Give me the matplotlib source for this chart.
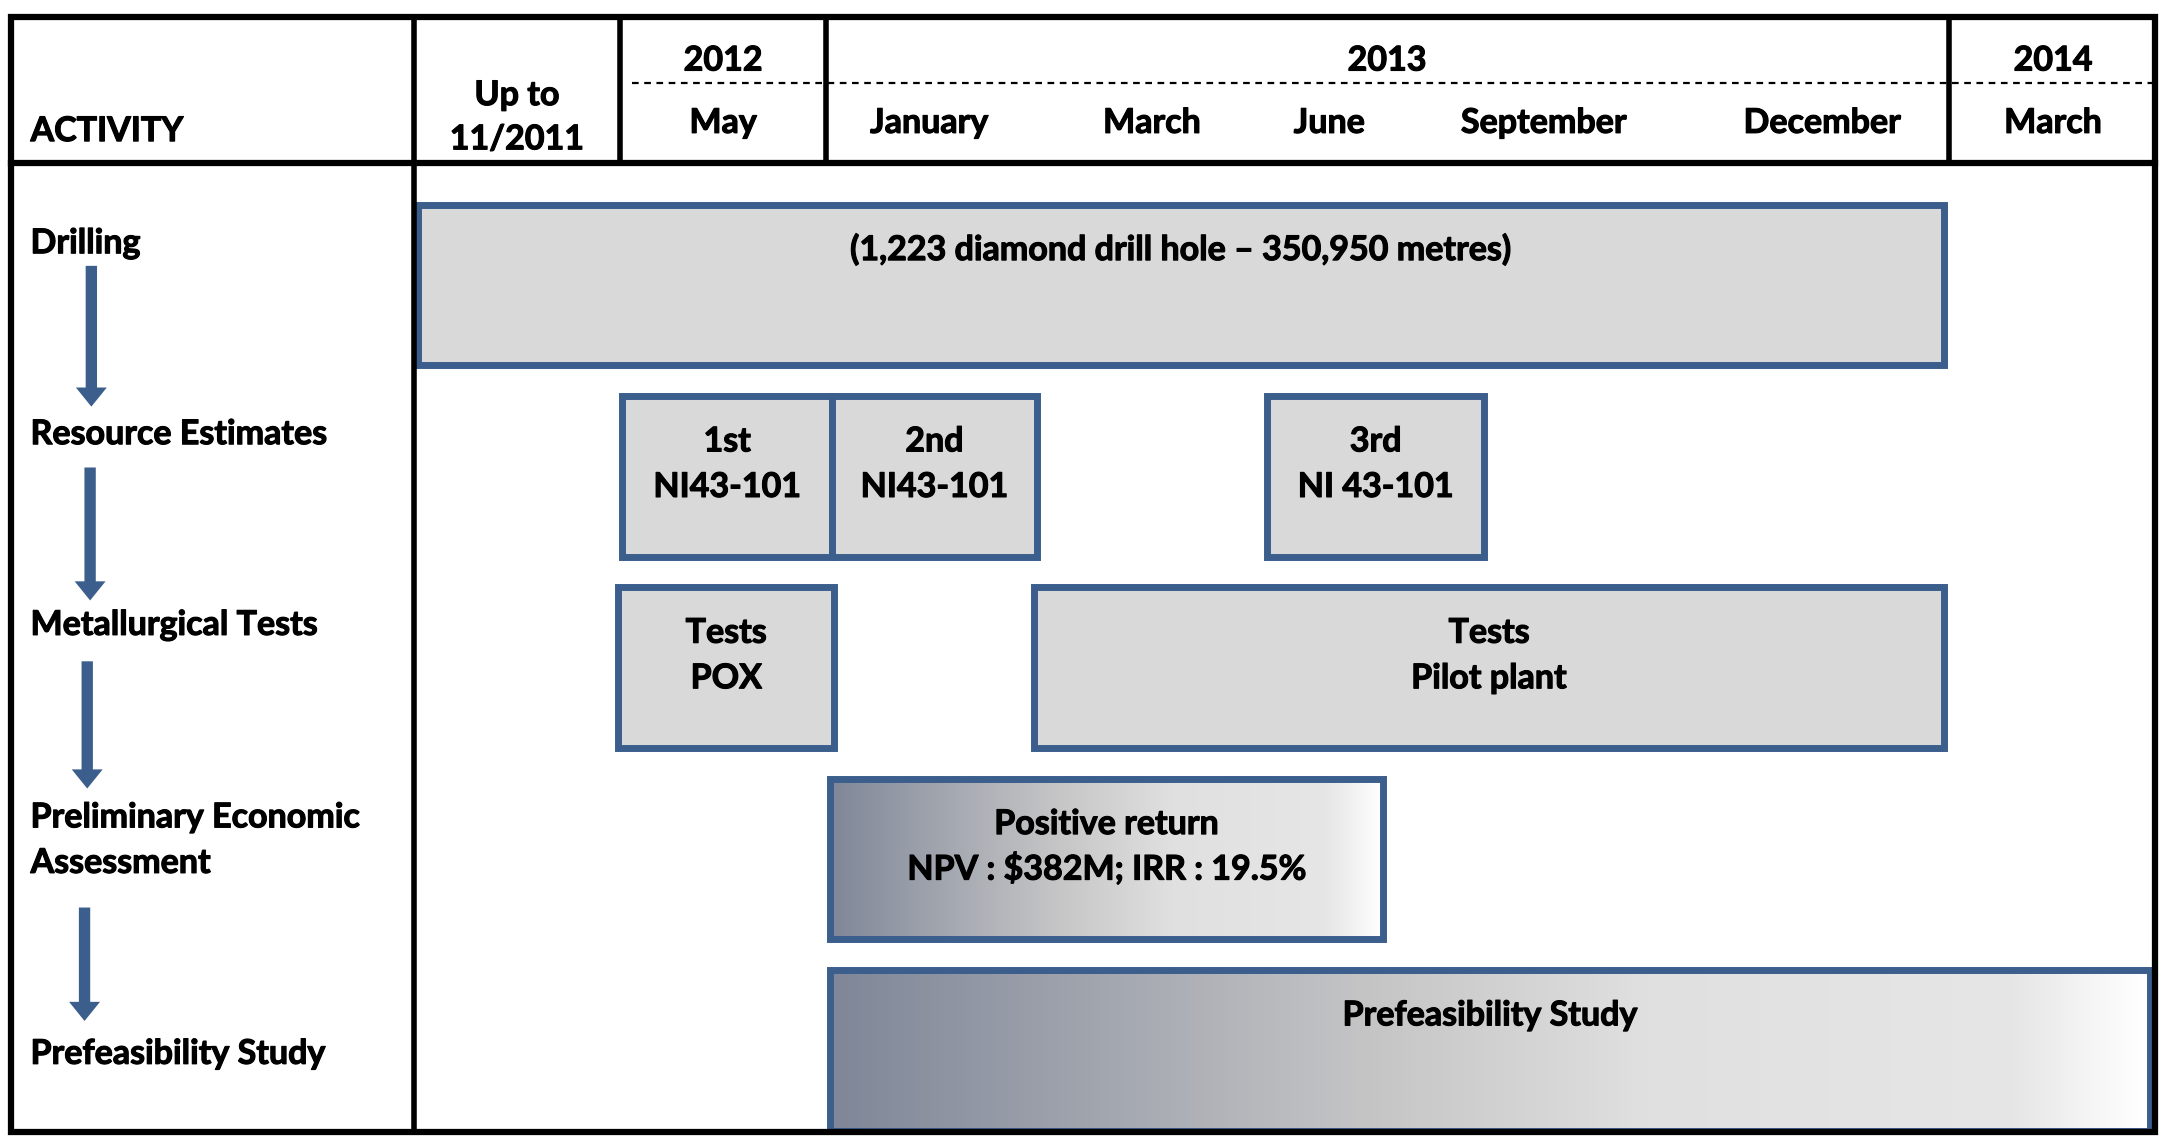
import numpy as np
import matplotlib
matplotlib.use("Agg")
import matplotlib.pyplot as plt
import matplotlib.patheffects as pe
from matplotlib.patches import Rectangle, FancyArrow
from matplotlib.colors import LinearSegmentedColormap

plt.rcParams["font.family"] = ["Lato", "DejaVu Sans"]
plt.rcParams["font.weight"] = "bold"

# ---- data ----------------------------------------------------------------
activities = ["Drilling", "Resource Estimates", "Metallurgical Tests",
              "Preliminary Economic\nAssessment", "Prefeasibility Study"]
activity_base = [-0.166, 0.832, 1.829, 2.835, 4.071]

years = ["2012", "2013", "2014"]
year_x = [1.5, 4.72, 7.95]
periods = ["Up to\n11/2011", "May", "January", "March", "June",
           "September", "December", "March"]
period_x = [0.5, 1.5, 2.5, 3.58, 4.44, 5.48, 6.83, 7.95]

# timeline in column units (one unit = width of a single-month column)
bar_row = [0, 1, 1, 1, 2, 2, 3, 4]
bar_start = [0.02, 1.01, 2.03, 4.14, 0.99, 3.01, 2.02, 2.02]
bar_end = [7.42, 2.03, 3.02, 5.19, 2.04, 7.42, 4.70, 8.42]
bar_text = ["(1,223 diamond drill hole \u2013 350,950 metres)",
            "1st\nNI43-101", "2nd\nNI43-101", "3rd\nNI 43-101",
            "Tests\nPOX", "Tests\nPilot plant",
            "Positive return\nNPV : $382M; IRR : 19.5%",
            "Prefeasibility Study"]
bar_gradient = [False, False, False, False, False, False, True, True]

# ---- layout --------------------------------------------------------------
BLUE = "#3b5e8c"
GREY = "#d9d9d9"
FS = 24.5
LINE = 0.238
left, right = -1.953, 8.443
top, bottom = -1.403, 4.425
head_bottom = -0.636
half_h = 0.42
plt.rcParams["path.effects"] = [pe.withStroke(linewidth=0.8, foreground="black")]

grad = LinearSegmentedColormap.from_list(
    "pea", [(0.0, "#7f8798"), (0.4, "#c4c4c5"), (0.62, "#e0e0e0"),
            (0.9, "#e6e6e6"), (1.0, "#ffffff")])

fig = plt.figure(figsize=(21.7, 11.44), dpi=100)
ax = fig.add_axes([0, 0, 1, 1])
ax.axis("off")
txt_kw = dict(fontsize=FS, path_effects=[pe.withStroke(linewidth=0.8, foreground="black")])
plt.rcParams["path.effects"] = []

# frame and header grid
ax.add_patch(Rectangle((left, top), right - left, bottom - top, fill=False,
                       ec="black", lw=4.5, zorder=5))
ax.plot([left, right], [head_bottom, head_bottom], color="black", lw=4.5, zorder=5)
ax.plot([0, 0], [top, bottom], color="black", lw=4, zorder=5)
for xv in [1, 2, 7.443]:
    ax.plot([xv, xv], [top, head_bottom], color="black", lw=4, zorder=5)
ax.plot([1.06, 8.43], [-1.056, -1.056], color="black", lw=1.6, ls=(0, (3, 2.5)), zorder=5)

ax.text(-1.859, -0.752, "ACTIVITY", ha="left", va="baseline", **txt_kw)
for yr, xv in zip(years, year_x):
    ax.text(xv, -1.121, yr, ha="center", va="baseline", **txt_kw)
for lab, xv in zip(periods, period_x):
    lines = lab.split("\n")
    if len(lines) == 2:
        ax.text(xv, -0.94, lines[0], ha="center", va="baseline", **txt_kw)
        ax.text(xv, -0.709, lines[1], ha="center", va="baseline", **txt_kw)
    else:
        ax.text(xv, -0.795, lab, ha="center", va="baseline", **txt_kw)

# activity labels and arrows
for lab, yv in zip(activities, activity_base):
    for k, ln in enumerate(lab.split("\n")):
        ax.text(-1.859, yv + LINE * k, ln, ha="left", va="baseline", **txt_kw)
arrow_x = [-1.564, -1.570, -1.584, -1.597]
arrow_y0 = [-0.10, 0.954, 1.967, 3.254]
arrow_y1 = [0.636, 1.649, 2.632, 3.847]
for xv, y0, y1 in zip(arrow_x, arrow_y0, arrow_y1):
    ax.add_patch(FancyArrow(xv, y0, 0, y1 - y0, width=0.055, head_width=0.15,
                            head_length=0.1, length_includes_head=True,
                            color=BLUE, lw=0))

# bars
for r, x0, x1, txt, g in zip(bar_row, bar_start, bar_end, bar_text, bar_gradient):
    y0 = r - half_h
    if g:
        ax.imshow(np.linspace(0, 1, 256)[None, :], cmap=grad, aspect="auto",
                  extent=(x0, x1, r + half_h, y0), zorder=2, interpolation="bilinear")
        ax.add_patch(Rectangle((x0, y0), x1 - x0, 2 * half_h, fill=False,
                               ec=BLUE, lw=5, zorder=3))
    else:
        ax.add_patch(Rectangle((x0, y0), x1 - x0, 2 * half_h, fc=GREY,
                               ec=BLUE, lw=5, zorder=3))
    for k, ln in enumerate(txt.split("\n")):
        ax.text((x0 + x1) / 2, y0 + 0.29 + LINE * k, ln,
                ha="center", va="baseline", zorder=4, **txt_kw)

ax.set_xlim(-2.007, 8.517)
ax.set_ylim(4.490, -1.4895)
fig.savefig("out.png", dpi=100)
